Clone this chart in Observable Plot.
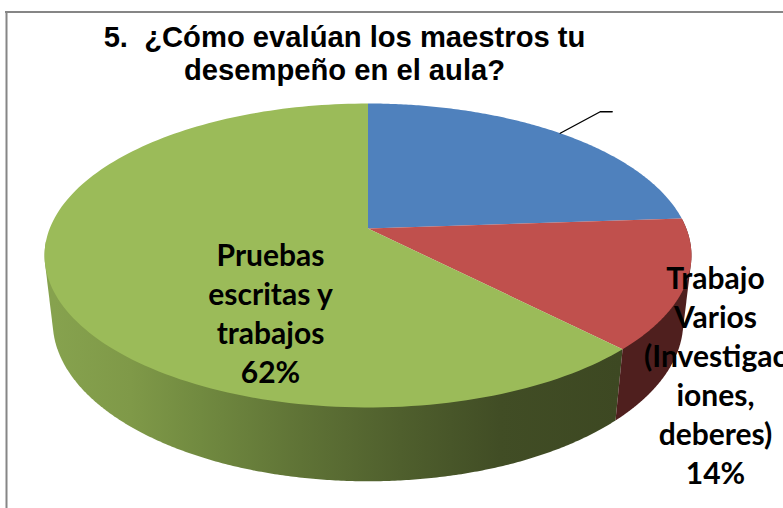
<!DOCTYPE html>
<html>
<head>
<meta charset="utf-8">
<script src="https://cdn.jsdelivr.net/npm/d3@7"></script>
<script src="https://cdn.jsdelivr.net/npm/@observablehq/plot@0.6"></script>
<style>html,body{margin:0;padding:0;background:#fff;overflow:hidden}svg{display:block}</style>
</head>
<body>
<div id="chart"></div>
<script>
const categories = ["Otros", "Trabajo Varios", "Pruebas escritas y trabajos"];
const values = [23.9, 13.8, 62.3];
const topColors = ["#4f81bd", "#c0504d", "#9bbb59"];
const titleLines = ["5.  ¿Cómo evalúan los maestros tu", "desempeño en el aula?"];
const labelGreen = ["Pruebas", "escritas y", "trabajos", "62%"];
const labelRed = ["Trabajo", "Varios", "(Investigac", "iones,", "deberes)", "14%"];
const wallStops = [54, 130, 200, 300, 400, 500, 620];
const wallColors = ["#86a24e", "#7f9948", "#718a40", "#5f7336", "#4f5f2d", "#414d25", "#3d4822"];
const redWall = "#4f1f1e";

const W = 783, H = 508;
const CX = 367.5, CY = 228, A = 318.3, B = 147.2, K = 0.1776, M = 0.025, C = 67;
// perspective view of a tilted disc: angle clockwise from the top, h = 0 lid, h = 1 base
function view(t, h = 0) {
  const X = Math.sin(t), Z = Math.cos(t), w = 1 + K * Z + M * h;
  return {x: CX + A * X / w, y: CY + (-B * Z + C * h) / w};
}
const total = d3.sum(values);
const ang = p => (p / total) * 2 * Math.PI;
let acc = 0;
const slices = values.map((v, i) => {
  const s = {name: categories[i], color: topColors[i], a0: ang(acc), a1: ang(acc + v)};
  acc += v;
  return s;
});
const steps = (a0, a1, n) => d3.range(n + 1).map(j => a0 + (a1 - a0) * j / n);

// lid wedges
const lid = slices.flatMap(s => [
  {name: s.name, color: s.color, x: CX, y: CY},
  ...steps(s.a0, s.a1, 160).map(t => ({...view(t), name: s.name, color: s.color}))
]);

// wall: outline swept between the lid and the base over an angle range
function wall(a0, a1) {
  const pts = steps(a0, a1, 300).flatMap(t => {
    const p = view(t, 0), q = view(t, 1);
    return [[p.x, p.y], [q.x, q.y]];
  });
  return d3.polygonHull(pts).map(([x, y]) => ({x, y}));
}
const greenWall = wall(slices[2].a0, slices[2].a0 + ang(36));
const redWallQ = wall(slices[1].a0, slices[1].a1);

// leader from the middle of the first slice's rim
const mid = view((slices[0].a0 + slices[0].a1) / 2);
const leader = [mid, {x: mid.x + 40, y: mid.y - 21.5}, {x: mid.x + 52, y: mid.y - 21.5}];

const textRows = (lines, x, y0, dy) => lines.map((text, i) => ({text, x, y: y0 + i * dy}));
const titleRows = textRows(titleLines, 344, 37, 33);
const greenRows = textRows(labelGreen, 270, 255.5, 39);
const redRows = textRows(labelRed, 715, 279, 39);

// horizontal gradient for the wall, placed through the x scale
const wallGradient = (index, {x}) => {
  const defs = d3.create("svg:defs");
  const g = defs.append("linearGradient").attr("id", "wallShade")
    .attr("gradientUnits", "userSpaceOnUse")
    .attr("x1", x(wallStops[0])).attr("x2", x(wallStops[wallStops.length - 1]))
    .attr("y1", 0).attr("y2", 0);
  const span = wallStops[wallStops.length - 1] - wallStops[0];
  wallStops.forEach((s, i) => {
    g.append("stop").attr("offset", (s - wallStops[0]) / span).attr("stop-color", wallColors[i]);
  });
  return defs.node();
};

const plot = Plot.plot({
  width: W, height: H, margin: 0,
  x: {domain: [0, W], range: [0, W], axis: null},
  y: {domain: [0, H], range: [0, H], axis: null},
  marks: [
    wallGradient,
    Plot.ruleX([6], {stroke: "#868686", strokeWidth: 2, y1: 11, y2: H}),
    Plot.ruleY([11.5], {stroke: "#868686", strokeWidth: 2, x1: 5, x2: W}),
    Plot.line(greenWall, {x: "x", y: "y", fill: "url(#wallShade)", stroke: "none", curve: "linear"}),
    Plot.line(redWallQ, {x: "x", y: "y", fill: redWall, stroke: "none", curve: "linear"}),
    Plot.line(lid, {x: "x", y: "y", z: "name", fill: d => d.color, stroke: "none", curve: "linear"}),
    Plot.line(leader, {x: "x", y: "y", stroke: "black", strokeWidth: 1.4, curve: "linear"}),
    Plot.text(titleRows, {x: "x", y: "y", text: "text", fontFamily: "Liberation Sans", fontWeight: "bold", fontSize: 29.2, fill: "black"}),
    Plot.text(greenRows, {x: "x", y: "y", text: "text", fontFamily: "Lato", fontWeight: "bold", fontSize: 30, fill: "black"}),
    Plot.text(redRows, {x: "x", y: "y", text: "text", fontFamily: "Lato", fontWeight: "bold", fontSize: 30, fill: "black"})
  ]
});
document.getElementById("chart").appendChild(plot);
</script>
</body>
</html>
